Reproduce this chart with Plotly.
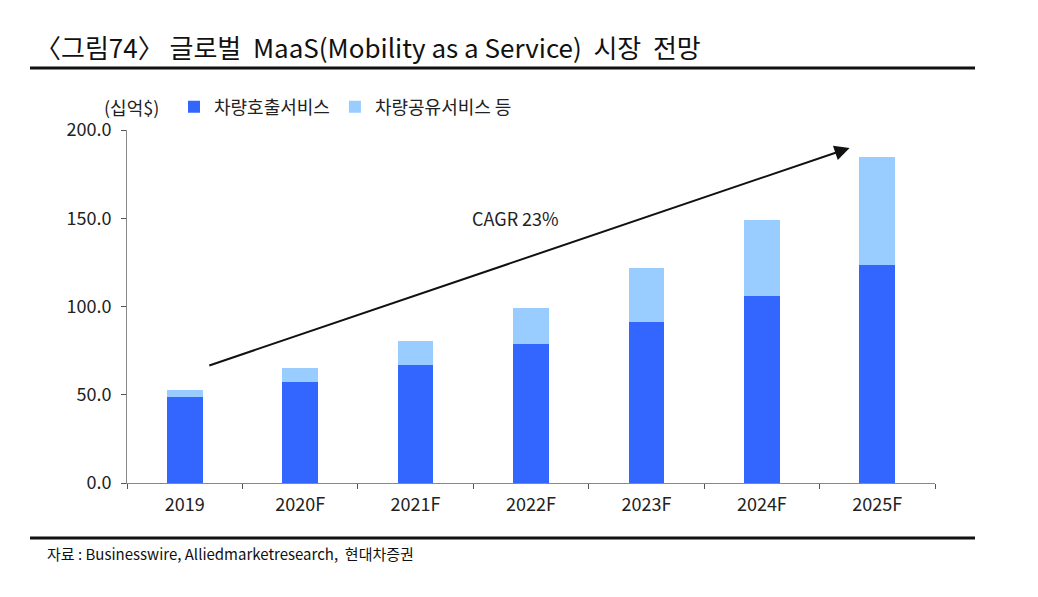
import plotly.graph_objects as go

categories = ["2019", "2020F", "2021F", "2022F", "2023F", "2024F", "2025F"]
hailing = [48.7, 57.2, 66.9, 78.8, 91.0, 106.0, 123.5]
sharing_total = [52.7, 65.2, 80.5, 99.2, 122.0, 148.8, 184.5]
sharing = [round(t - h, 1) for t, h in zip(sharing_total, hailing)]
yticks = [0, 50, 100, 150, 200]
ytick_text = ["0.0", "50.0", "100.0", "150.0", "200.0"]

FONT = "Noto Sans CJK KR"
W, H = 1038, 597
L, R, T, B = 127, 103, 130, 114
PW, PH = W - L - R, H - T - B

def px(xp):
    return (xp - L) / PW

def py(yp):
    return (H - B - yp) / PH

fig = go.Figure()
fig.add_trace(go.Bar(x=categories, y=hailing, name="차량호출서비스",
                     marker=dict(color="#3366FF", line=dict(width=0))))
fig.add_trace(go.Bar(x=categories, y=sharing, name="차량공유서비스 등",
                     marker=dict(color="#99CCFF", line=dict(width=0))))

fig.update_layout(
    width=W, height=H, barmode="stack", bargap=0.69,
    margin=dict(l=L, r=R, t=T, b=B, autoexpand=False),
    paper_bgcolor="white", plot_bgcolor="white",
    font=dict(family=FONT, size=18, color="#222222"),
    showlegend=True,
    legend=dict(orientation="h", x=px(174), y=py(107),
                xanchor="left", yanchor="middle", font=dict(size=18, family=FONT, color="#222222"),
                traceorder="normal", itemwidth=30, bgcolor="rgba(0,0,0,0)"),
    xaxis=dict(type="category", showline=True, linecolor="#888888", linewidth=1,
               ticks="outside", ticklen=5, tickcolor="#555555", tickson="boundaries",
               ticklabelstandoff=5,
               tickfont=dict(size=18, family=FONT, color="#222222"), showgrid=False),
    yaxis=dict(range=[0, 200], tickvals=yticks, ticktext=ytick_text, showline=True,
               linecolor="#888888", linewidth=1, ticks="outside", ticklen=5, tickcolor="#555555",
               ticklabelstandoff=6,
               tickfont=dict(size=18, family=FONT, color="#222222"), showgrid=False, zeroline=False),
)

# y-axis unit label
fig.add_annotation(text="(십억$)", xref="paper", yref="paper", x=px(102), y=py(107),
                   xanchor="left", yanchor="middle", showarrow=False,
                   font=dict(size=18, family=FONT, color="#222222"))

# CAGR arrow
fig.add_annotation(x=5.76, y=189.8, ax=0.2, ay=66.3, xref="x", yref="y", axref="x", ayref="y",
                   showarrow=True, arrowhead=2, arrowsize=1.5, arrowwidth=2, arrowcolor="#111111", text="")
fig.add_annotation(x=2.87, y=150, xref="x", yref="y", text="CAGR 23%", showarrow=False,
                   font=dict(size=18, family=FONT, color="#222222"))

# Title
fig.add_annotation(text="〈그림74〉 글로벌  MaaS(Mobility as a Service)  시장  전망", xref="paper", yref="paper",
                   x=px(33), y=py(47), xanchor="left", yanchor="middle",
                   showarrow=False, font=dict(size=26, family=FONT, color="#111111"))
# Source
fig.add_annotation(text="자료 : Businesswire, Alliedmarketresearch,  현대차증권", xref="paper", yref="paper",
                   x=px(45), y=py(553), xanchor="left", yanchor="middle",
                   showarrow=False, font=dict(size=15, family=FONT, color="#111111"))

# Rules
fig.add_shape(type="line", xref="paper", yref="paper", x0=px(30), x1=px(975), y0=py(68), y1=py(68),
              line=dict(color="#111111", width=3))
fig.add_shape(type="line", xref="paper", yref="paper", x0=px(30), x1=px(975), y0=py(538), y1=py(538),
              line=dict(color="#111111", width=3))

fig.write_html("out.html")
